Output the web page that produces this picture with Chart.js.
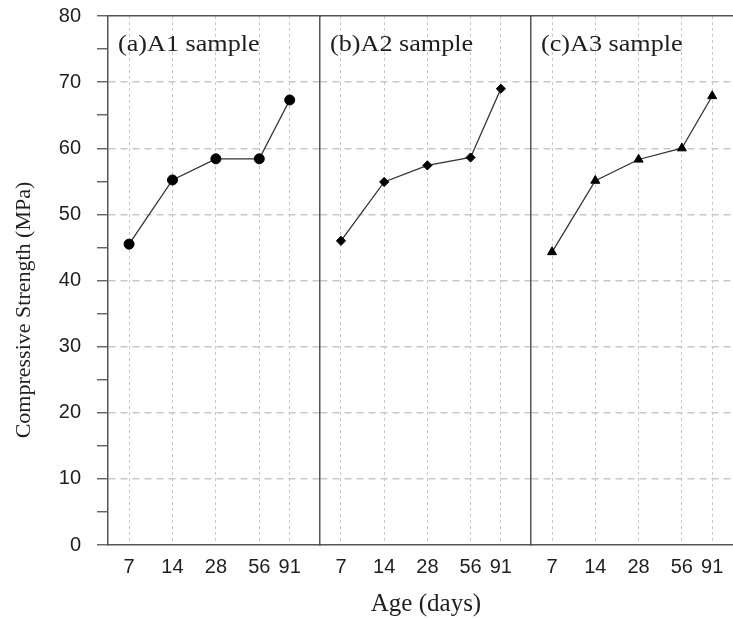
<!DOCTYPE html>
<html>
<head>
<meta charset="utf-8">
<script src="https://cdn.jsdelivr.net/npm/chart.js@4.4.0/dist/chart.umd.min.js"></script>
<style>
  body { margin: 0; background: #fff; }
  #wrap { position: relative; width: 733px; height: 620px; overflow: hidden; }
  canvas { position: absolute; top: 0; }
</style>
</head>
<body>
<div id="wrap">
  <canvas id="chartA1" width="321" height="620" style="left:0px"></canvas>
  <canvas id="chartA2" width="213" height="620" style="left:319px"></canvas>
  <canvas id="chartA3" width="203" height="620" style="left:530px"></canvas>
</div>
<script>
// curing age (days) and compressive strength (MPa) for each sample
let ages = [7, 14, 28, 56, 91];
let strengthA1 = [45.5, 55.2, 58.4, 58.4, 67.3];
let strengthA2 = [46.0, 54.9, 57.4, 58.6, 69.0];
let strengthA3 = [44.3, 55.1, 58.3, 60.0, 67.9];
let panelLabels = ['(a)A1 sample', '(b)A2 sample', '(c)A3 sample'];
let yTitle = 'Compressive Strength (MPa)';
let xTitle = 'Age (days)';

const axisColor = '#555';
const gridColor = '#c8c8c8';
const textColor = '#1e1e1e';
const serif = '"Liberation Serif", "Times New Roman", serif';

Chart.defaults.font.family = '"Liberation Sans", Arial, sans-serif';
Chart.defaults.color = textColor;

// panel caption (and y title on first panel)
let panelText = {
    id: 'panelText',
    afterDraw(chart, args, opts) {
        let ctx = chart.ctx;
        let area = chart.chartArea;
        ctx.save();
        ctx.fillStyle = textColor;
        ctx.font = '24px ' + serif;
        ctx.textBaseline = 'alphabetic';
        ctx.save();
        ctx.translate(area.left + 10, 51);
        ctx.scale(1.09, 1);
        ctx.fillText(opts.label, 0, 0);
        ctx.restore();
        if (opts.yTitle) {
            ctx.translate(24, 310);
            ctx.rotate(-Math.PI / 2);
            ctx.textAlign = 'center';
            ctx.textBaseline = 'middle';
            ctx.font = '22px ' + serif;
            ctx.fillText(opts.yTitle, 0, 0);
        }
        ctx.restore();
    }
};

let makePanel = (id, values, label, pointStyle, pointRadius, o) => {
    let ctx = document.getElementById(id).getContext('2d');
    return new Chart(ctx, {
        type: 'line',
        data: {
            datasets: [{
                data: ages.map((a, i) => ({x: a, y: values[i]})),
                borderColor: '#333',
                borderWidth: 1.3,
                pointStyle: pointStyle,
                pointRadius: pointRadius,
                pointBackgroundColor: '#000',
                pointBorderColor: '#000',
                pointBorderWidth: 1,
                tension: 0,
                clip: false
            }]
        },
        options: {
            responsive: false,
            animation: false,
            layout: {
                autoPadding: false,
                padding: {top: 16, left: o.first ? 0 : 1, right: 0, bottom: 0}
            },
            plugins: {
                legend: {display: false},
                tooltip: {enabled: false},
                panelText: {label: label, yTitle: o.first ? yTitle : null}
            },
            scales: {
                x: {
                    type: 'logarithmic',
                    min: 5,
                    max: o.xMax,
                    afterBuildTicks: s => { s.ticks = ages.map(v => ({value: v})); },
                    afterFit: s => {
                        s.height = 75;
                        s.paddingLeft = 0;
                        s.paddingRight = 0;
                    },
                    ticks: {
                        autoSkip: false,
                        maxRotation: 0,
                        padding: 10,
                        font: {size: 20},
                        color: textColor,
                        callback: v => String(v)
                    },
                    grid: {color: gridColor, lineWidth: 1, drawTicks: false},
                    border: {display: true, color: axisColor, width: 1.5, dash: [3, 3]},
                    title: {
                        display: !!o.xTitle,
                        text: xTitle,
                        color: textColor,
                        font: {size: 25, family: serif},
                        padding: {top: 0, bottom: 1}
                    }
                },
                top: {
                    type: 'linear',
                    position: 'top',
                    min: 0,
                    max: 1,
                    afterFit: s => {
                        s.height = 0;
                        s.paddingLeft = 0;
                        s.paddingRight = 0;
                    },
                    ticks: {display: false},
                    grid: {display: false, drawTicks: false},
                    border: {display: true, color: axisColor, width: 1.5}
                },
                y: {
                    min: 0,
                    max: 80,
                    afterFit: s => {
                        s.width = o.first ? 108 : 0;
                        s.paddingTop = 0;
                        s.paddingBottom = 0;
                    },
                    ticks: {
                        display: !!o.first,
                        stepSize: 5,
                        padding: 16,
                        font: {size: 20},
                        color: textColor,
                        callback: v => (v % 10 === 0 ? String(v) : '')
                    },
                    grid: {
                        color: c => (c.tick && c.tick.value % 10 === 0 && c.tick.value > 0 && c.tick.value < 80) ? gridColor : 'rgba(0,0,0,0)',
                        lineWidth: 1.5,
                        drawTicks: !!o.first,
                        tickLength: 11,
                        tickColor: axisColor,
                        tickWidth: 1.3,
                        tickBorderDash: []
                    },
                    border: {display: true, color: axisColor, width: 1.5, dash: [7, 5]}
                }
            }
        },
        plugins: [panelText]
    });
};

let chartA1 = makePanel('chartA1', strengthA1, panelLabels[0], 'circle', 5, {first: true, xMax: 150});
let chartA2 = makePanel('chartA2', strengthA2, panelLabels[1], 'rectRot', 4.6, {xMax: 150, xTitle: true});
let chartA3 = makePanel('chartA3', strengthA3, panelLabels[2], 'triangle', 5.2, {xMax: 127});
</script>
</body>
</html>
